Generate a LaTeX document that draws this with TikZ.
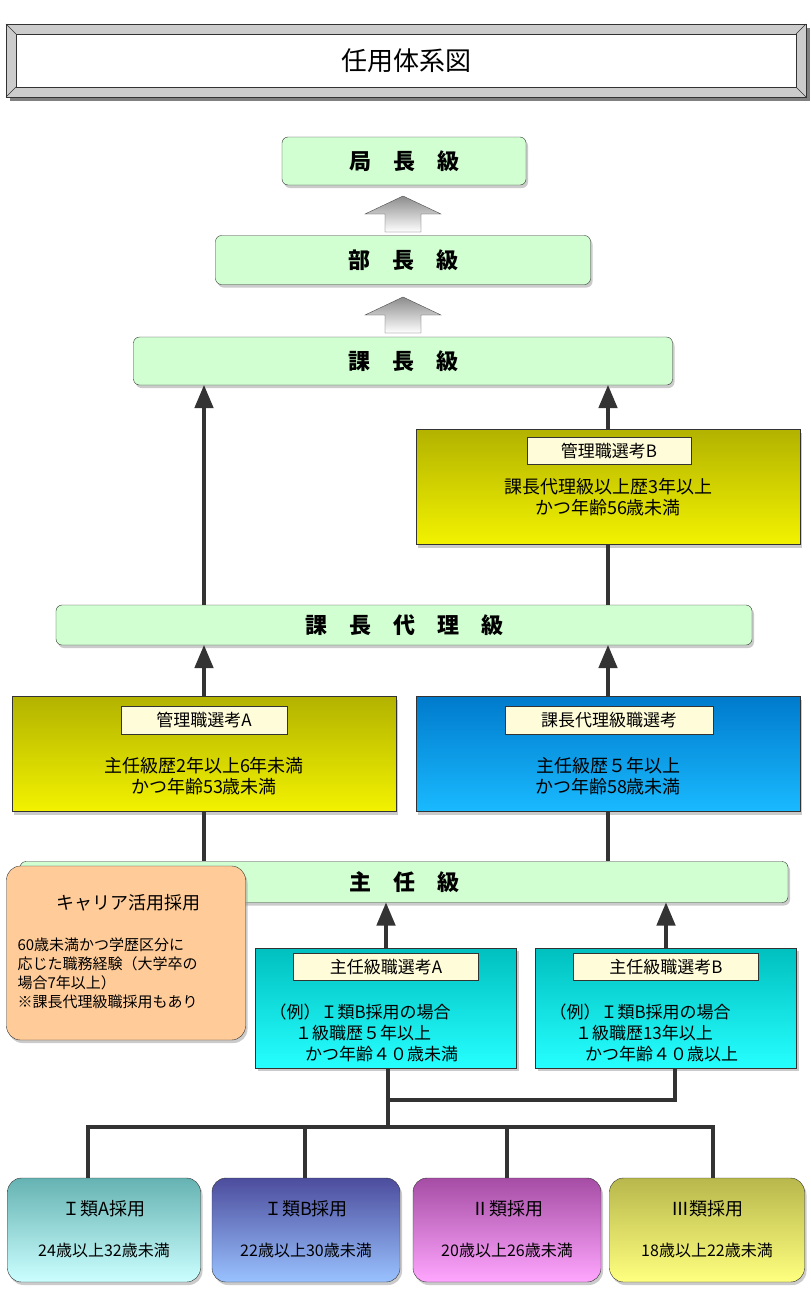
\documentclass[tikz,border=0pt]{standalone}
\usepackage{fontspec}
\setmainfont{Noto Sans CJK JP}
\usetikzlibrary{calc,positioning,arrows,shapes,shadows}
\tikzset{lvl/.style={draw=black!80,rounded corners=6pt,fill=green!18,drop shadow={shadow xshift=2pt,shadow yshift=-3pt,fill=black!40},font=\fontsize{22}{24}\selectfont\bfseries},
  sel/.style={draw=black!80,drop shadow={shadow xshift=2pt,shadow yshift=-3pt,fill=black!40},align=center,font=\fontsize{17}{21}\selectfont},
  tag/.style={draw=black!80,fill=white!85!yellow,font=\fontsize{17}{18}\selectfont,inner sep=0pt},
  src/.style={draw=black!80,rounded corners=14pt,drop shadow={shadow xshift=2pt,shadow yshift=-3pt,fill=black!40},align=center,font=\fontsize{15}{18}\selectfont},
  up/.style={line width=4.5pt,draw=black!80,-triangle 45},
  bar/.style={line width=4.5pt,draw=black!80},
  blk/.style={draw=black!70,top color=black!45,bottom color=white}}
\newcommand{\blockarrow}[2]{\draw[blk] (#1-18,#2+18) -- (#1-18,#2) -- (#1-38,#2) -- (#1,#2-18) -- (#1+38,#2) -- (#1+18,#2) -- (#1+18,#2+18) -- cycle;}
\begin{document}
\begin{tikzpicture}[x=1pt,y=-1pt]
  \useasboundingbox[fill=white] (0,0) rectangle (811,1307);
  % title
  \fill[black!50] (10,28) rectangle (810,101);
  \draw[black!80,fill=black!20] (6,24) rectangle (806,97);
  \draw[black!80,fill=white] (16,34) rectangle (796,87);
  \draw[black!80] (6,24) -- (16,34) (806,24) -- (796,34) (6,97) -- (16,87) (806,97) -- (796,87);
  \node[font=\fontsize{26}{28}\selectfont] (title) at (406,61) {任用体系図};

  % levels
  \node[lvl,minimum width=244pt,minimum height=48pt] (kyoku) at (404,161) {局　長　級};
  \node[lvl,minimum width=375pt,minimum height=49pt] (bu) at (403,260) {部　長　級};
  \node[lvl,minimum width=539pt,minimum height=48pt] (ka) at (403,361) {課　長　級};
  \node[lvl,minimum width=696pt,minimum height=40pt] (dairi) at (404,625) {課　長　代　理　級};
  \node[lvl,minimum width=768pt,minimum height=41pt] (shunin) at (404,882) {主　任　級};
  \blockarrow{403}{214}
  \blockarrow{403}{315}

  % selections
  \node[sel,top color=yellow!70!black,bottom color=yellow!95!black,minimum width=384pt,minimum height=115pt] (kanB) at (608,487) {};
  \node[tag,minimum width=164pt,minimum height=27pt] (kanBt) at (609,451) {管理職選考B};
  \node[font=\fontsize{18}{21}\selectfont,align=center] at (608,497) {課長代理級以上歴3年以上\\かつ年齢56歳未満};
  \node[sel,top color=yellow!70!black,bottom color=yellow!95!black,minimum width=384pt,minimum height=115pt] (kanA) at (204,754) {};
  \node[tag,minimum width=166pt,minimum height=28pt] (kanAt) at (204,720) {管理職選考A};
  \node[font=\fontsize{18}{21}\selectfont,align=center] at (204,776) {主任級歴2年以上6年未満\\かつ年齢53歳未満};
  \node[sel,top color=cyan!60!blue!80!black,bottom color=cyan!70!blue!90,minimum width=384pt,minimum height=115pt] (kdSel) at (608,754) {};
  \node[tag,minimum width=208pt,minimum height=28pt] (kdSelt) at (609,720) {課長代理級職選考};
  \node[font=\fontsize{18}{21}\selectfont,align=center] at (608,776) {主任級歴５年以上\\かつ年齢58歳未満};
  \node[sel,top color=cyan!75!black,bottom color=cyan!85,minimum width=261pt,minimum height=120pt] (shA) at (386,1008) {};
  \node[tag,minimum width=185pt,minimum height=27pt] (shAt) at (386,967) {主任級職選考A};
  \node[font=\fontsize{17}{21}\selectfont,align=left,anchor=north west] at (266,1000) {（例）Ｉ類B採用の場合\\\hspace*{1.5em}１級職歴５年以上\\\hspace*{2.1em}かつ年齢４０歳未満};
  \node[sel,top color=cyan!75!black,bottom color=cyan!85,minimum width=261pt,minimum height=120pt] (shB) at (666,1008) {};
  \node[tag,minimum width=185pt,minimum height=27pt] (shBt) at (666,967) {主任級職選考B};
  \node[font=\fontsize{17}{21}\selectfont,align=left,anchor=north west] at (546,1000) {（例）Ｉ類B採用の場合\\\hspace*{1.5em}１級職歴13年以上\\\hspace*{2.1em}かつ年齢４０歳以上};

  % career
  \node[src,fill=orange!40,minimum width=239pt,minimum height=174pt] (career) at (126,953) {};
  \node[font=\fontsize{18}{20}\selectfont] at (128,903) {キャリア活用採用};
  \node[font=\fontsize{15}{19}\selectfont,align=left,anchor=north west] at (14,934) {60歳未満かつ学歴区分に\\応じた職務経験（大学卒の\\場合7年以上）\\※課長代理級職採用もあり};

  % connectors
  \draw[up] (kanB.north) -- (ka.south -| kanB);
  \draw[up] (dairi.north -| kanA) -- (ka.south -| kanA);
  \draw[bar] (kanB.south) -- (dairi.north -| kanB);
  \draw[up] (kanA.north) -- (dairi.south -| kanA);
  \draw[up] (kdSel.north) -- (dairi.south -| kdSel);
  \draw[bar] (kanA.south) -- (shunin.north -| kanA);
  \draw[bar] (kdSel.south) -- (shunin.north -| kdSel);
  \draw[up] (shA.north) -- (shunin.south -| shA);
  \draw[up] (shB.north) -- (shunin.south -| shB);

  % sources
  \node[src,top color=teal!60,bottom color=cyan!20,minimum width=193pt,minimum height=104pt] (s1) at (104,1230) {};
  \node[src,top color=blue!45!black!70,bottom color=cyan!40!blue!40,minimum width=188pt,minimum height=104pt] (s2) at (306,1230) {};
  \node[src,top color=violet!70,bottom color=magenta!35,minimum width=188pt,minimum height=104pt] (s3) at (507,1230) {};
  \node[src,top color=yellow!60!black!70,bottom color=yellow!50,minimum width=195pt,minimum height=104pt] (s4) at (707,1230) {};
  \foreach \n/\t/\a in {s1/Ｉ類A採用/24歳以上32歳未満,s2/Ｉ類B採用/22歳以上30歳未満,s3/Ⅱ類採用/20歳以上26歳未満,s4/Ⅲ類採用/18歳以上22歳未満}{
    \node[font=\fontsize{18}{20}\selectfont] at ($(\n)+(0,-21)$) {\t};
    \node[font=\fontsize{16}{18}\selectfont] at ($(\n)+(0,20)$) {\a};}

  \coordinate (jA) at (388,1127);
  \coordinate (jB) at (388,1100);
  \draw[bar] (shA.south -| jA) -- (jA);
  \draw[bar] (jB) -- (jB -| 675,0) -- (shB.south -| 675,0);
  \draw[bar] (s1.north -| 88,0) -- (88,1127) -- (713,1127) -- (s4.north -| 713,0);
  \draw[bar] (305,1127) -- (s2.north -| 305,0);
  \draw[bar] (507,1127) -- (s3.north -| 507,0);
\end{tikzpicture}
\end{document}
